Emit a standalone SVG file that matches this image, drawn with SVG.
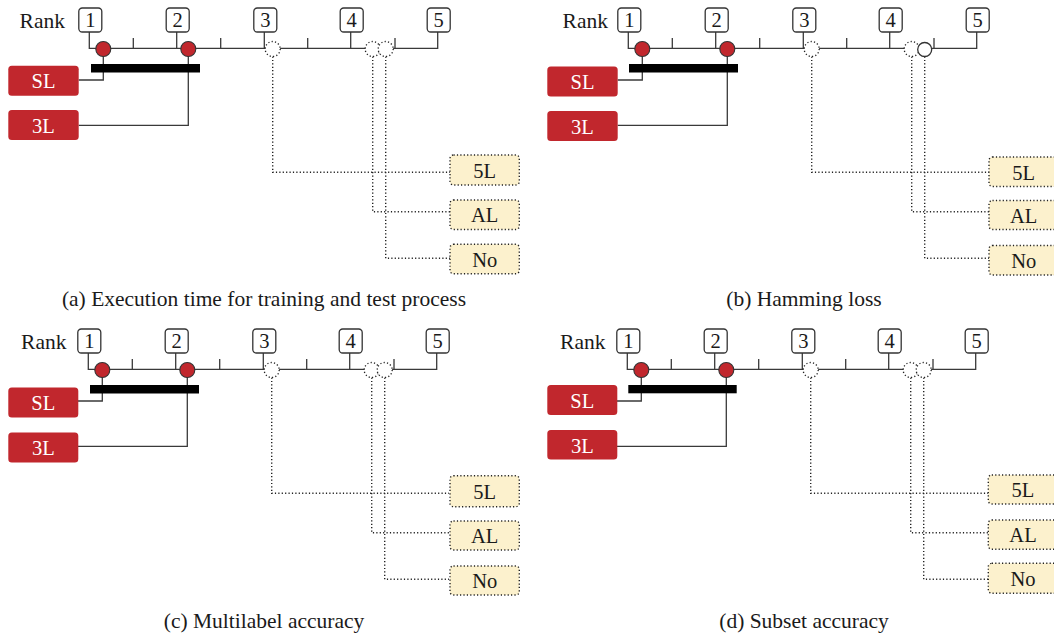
<svg xmlns="http://www.w3.org/2000/svg" width="1054" height="637" viewBox="0 0 1054 637">
  <style>
    text { font-family: "Liberation Serif", "Times New Roman", serif; fill: #1a1a1a; }
    .rank { font-size: 21.5px; }
    .num { font-size: 20.5px; text-anchor: middle; }
    .lab { font-size: 20.5px; text-anchor: middle; }
    .lab-w { fill: #ffffff; }
    .cap { font-size: 21.5px; text-anchor: middle; }
    .rbox { fill: #ffffff; stroke: #333333; stroke-width: 1.3; }
    .solid { fill: none; stroke: #3a3a3a; stroke-width: 1.3; }
    .dot { fill: none; stroke: #222222; stroke-width: 1.4; stroke-dasharray: 1.2 2.2; }
    .red-c { fill: #c1272d; stroke: #333333; stroke-width: 1.1; }
    .open-c { fill: #ffffff; stroke: #222222; stroke-width: 1.3; stroke-dasharray: 1.2 2.2; }
    .open-s { fill: #ffffff; stroke: #333333; stroke-width: 1.3; }
    .red-box { fill: #c1272d; }
    .yel-box { fill: #fcf1cd; stroke: #222222; stroke-width: 1.4; stroke-dasharray: 1.2 2.2; }
    .cd { fill: #000000; }
  </style>

  <!-- Panel (a) -->
  <g id="panel-a">
    <g id="a-axis">
      <text class="rank" x="65" y="27.5" text-anchor="end">Rank</text>
      <path class="solid" d="M89.3 32V48.3H437.7V32M176.7 32V48.3M264.3 32V48.3M350.7 32V48.3M133.3 38V48.3M220.7 38V48.3M307.7 38V48.3M395 38V48.3"/>
    </g>
    <g id="a-r1"><rect class="rbox" x="78.8" y="8" width="23" height="24" rx="3.5"/><text class="num" x="90.3" y="27">1</text></g>
    <g id="a-r2"><rect class="rbox" x="166.2" y="8" width="23" height="24" rx="3.5"/><text class="num" x="177.7" y="27">2</text></g>
    <g id="a-r3"><rect class="rbox" x="253.8" y="8" width="23" height="24" rx="3.5"/><text class="num" x="265.3" y="27">3</text></g>
    <g id="a-r4"><rect class="rbox" x="340.2" y="8" width="23" height="24" rx="3.5"/><text class="num" x="351.7" y="27">4</text></g>
    <g id="a-r5"><rect class="rbox" x="427.2" y="8" width="23" height="24" rx="3.5"/><text class="num" x="438.7" y="27">5</text></g>
    <g id="a-connectors">
      <path class="solid" d="M103.3 56V80H78.7"/>
      <path class="solid" d="M188.3 56V125.3H78.7"/>
      <path class="dot" d="M272.7 56.5V172.3H450"/>
      <path class="dot" d="M372.7 56.5V211.7H450"/>
      <path class="dot" d="M385.7 56.5V258.3H450"/>
    </g>
    <g id="a-marks">
      <circle class="red-c" cx="103.3" cy="49" r="7.5"/>
      <circle class="red-c" cx="188.3" cy="49" r="7.5"/>
      <circle class="open-c" cx="272.7" cy="49" r="7.5"/>
      <circle class="open-c" cx="372.7" cy="49" r="7.5"/>
      <circle class="open-c" cx="385.7" cy="49" r="7.5"/>
      <rect class="cd" x="91" y="64" width="109" height="8.5"/>
    </g>
    <g id="a-sl"><rect class="red-box" x="8.3" y="65.7" width="70.4" height="30" rx="3.5"/><text class="lab lab-w" x="43.5" y="88.3">SL</text></g>
    <g id="a-3l"><rect class="red-box" x="8.3" y="110" width="70.4" height="30" rx="3.5"/><text class="lab lab-w" x="43.5" y="132.8">3L</text></g>
    <g id="a-5l"><rect class="yel-box" x="450" y="155" width="69.3" height="30" rx="3.5"/><text class="lab" x="484.7" y="177.8">5L</text></g>
    <g id="a-al"><rect class="yel-box" x="450" y="200" width="69.3" height="29.5" rx="3.5"/><text class="lab" x="484.7" y="222.3">AL</text></g>
    <g id="a-no"><rect class="yel-box" x="450" y="244.3" width="69.3" height="29.5" rx="3.5"/><text class="lab" x="484.7" y="266.8">No</text></g>
  </g>

  <!-- Panel (b) -->
  <g id="panel-b" transform="translate(539 0)">
    <g id="b-axis">
      <text class="rank" x="69" y="27.5" text-anchor="end">Rank</text>
      <path class="solid" d="M89.3 32V48.3H437.7V32M176.7 32V48.3M264.3 32V48.3M350.7 32V48.3M133.3 38V48.3M220.7 38V48.3M307.7 38V48.3M395 38V48.3"/>
    </g>
    <g id="b-r1"><rect class="rbox" x="78.8" y="8" width="23" height="24" rx="3.5"/><text class="num" x="90.3" y="27">1</text></g>
    <g id="b-r2"><rect class="rbox" x="166.2" y="8" width="23" height="24" rx="3.5"/><text class="num" x="177.7" y="27">2</text></g>
    <g id="b-r3"><rect class="rbox" x="253.8" y="8" width="23" height="24" rx="3.5"/><text class="num" x="265.3" y="27">3</text></g>
    <g id="b-r4"><rect class="rbox" x="340.2" y="8" width="23" height="24" rx="3.5"/><text class="num" x="351.7" y="27">4</text></g>
    <g id="b-r5"><rect class="rbox" x="427.2" y="8" width="23" height="24" rx="3.5"/><text class="num" x="438.7" y="27">5</text></g>
    <g id="b-connectors">
      <path class="solid" d="M103.3 56V80H78.7"/>
      <path class="solid" d="M188.3 56V125.3H78.7"/>
      <path class="dot" d="M272.7 56.5V172.3H450"/>
      <path class="dot" d="M372.7 56.5V211.7H450"/>
      <path class="dot" d="M385.7 56.5V258.3H450"/>
    </g>
    <g id="b-marks">
      <circle class="red-c" cx="103.3" cy="49" r="7.5"/>
      <circle class="red-c" cx="188.3" cy="49" r="7.5"/>
      <circle class="open-c" cx="272.7" cy="49" r="7.5"/>
      <circle class="open-c" cx="372.7" cy="49" r="7.5"/>
      <circle class="open-s" cx="385.7" cy="49.5" r="7"/>
      <rect class="cd" x="90" y="64" width="109" height="8.5"/>
    </g>
    <g id="b-sl"><rect class="red-box" x="8.3" y="66.5" width="70.4" height="30" rx="3.5"/><text class="lab lab-w" x="43.5" y="89.1">SL</text></g>
    <g id="b-3l"><rect class="red-box" x="8.3" y="111" width="70.4" height="30" rx="3.5"/><text class="lab lab-w" x="43.5" y="133.8">3L</text></g>
    <g id="b-5l"><rect class="yel-box" x="450" y="157" width="69.3" height="29.5" rx="3.5"/><text class="lab" x="484.7" y="179.6">5L</text></g>
    <g id="b-al"><rect class="yel-box" x="450" y="200.5" width="69.3" height="29" rx="3.5"/><text class="lab" x="484.7" y="222.8">AL</text></g>
    <g id="b-no"><rect class="yel-box" x="450" y="245.5" width="69.3" height="29.5" rx="3.5"/><text class="lab" x="484.7" y="268.1">No</text></g>
  </g>

  <!-- Panel (c) -->
  <g id="panel-c" transform="translate(-1 321)">
    <g id="c-axis">
      <text class="rank" x="67.5" y="27.5" text-anchor="end">Rank</text>
      <path class="solid" d="M89.3 32V48.3H437.7V32M176.7 32V48.3M264.3 32V48.3M350.7 32V48.3M133.3 38V48.3M220.7 38V48.3M307.7 38V48.3M395 38V48.3"/>
    </g>
    <g id="c-r1"><rect class="rbox" x="78.8" y="8" width="23" height="24" rx="3.5"/><text class="num" x="90.3" y="27">1</text></g>
    <g id="c-r2"><rect class="rbox" x="166.2" y="8" width="23" height="24" rx="3.5"/><text class="num" x="177.7" y="27">2</text></g>
    <g id="c-r3"><rect class="rbox" x="253.8" y="8" width="23" height="24" rx="3.5"/><text class="num" x="265.3" y="27">3</text></g>
    <g id="c-r4"><rect class="rbox" x="340.2" y="8" width="23" height="24" rx="3.5"/><text class="num" x="351.7" y="27">4</text></g>
    <g id="c-r5"><rect class="rbox" x="427.2" y="8" width="23" height="24" rx="3.5"/><text class="num" x="438.7" y="27">5</text></g>
    <g id="c-connectors">
      <path class="solid" d="M103.3 56V80H78.7"/>
      <path class="solid" d="M188.3 56V125.3H78.7"/>
      <path class="dot" d="M272.7 56.5V172.3H450"/>
      <path class="dot" d="M372.7 56.5V211.7H450"/>
      <path class="dot" d="M385.7 56.5V258.3H450"/>
    </g>
    <g id="c-marks">
      <circle class="red-c" cx="103.3" cy="49" r="7.5"/>
      <circle class="red-c" cx="188.3" cy="49" r="7.5"/>
      <circle class="open-c" cx="272.7" cy="49" r="7.5"/>
      <circle class="open-c" cx="372.7" cy="49" r="7.5"/>
      <circle class="open-c" cx="385.7" cy="49" r="7.5"/>
      <rect class="cd" x="91" y="64" width="109" height="8.5"/>
    </g>
    <g id="c-sl"><rect class="red-box" x="9.3" y="66.5" width="70" height="30" rx="3.5"/><text class="lab lab-w" x="44.3" y="89.1">SL</text></g>
    <g id="c-3l"><rect class="red-box" x="9.3" y="111.5" width="70" height="30" rx="3.5"/><text class="lab lab-w" x="44.3" y="134.3">3L</text></g>
    <g id="c-5l"><rect class="yel-box" x="451" y="154.7" width="69.3" height="31" rx="3.5"/><text class="lab" x="485.7" y="177.8">5L</text></g>
    <g id="c-al"><rect class="yel-box" x="451" y="200" width="69.3" height="29" rx="3.5"/><text class="lab" x="485.7" y="222.3">AL</text></g>
    <g id="c-no"><rect class="yel-box" x="451" y="245" width="69.3" height="29" rx="3.5"/><text class="lab" x="485.7" y="267.3">No</text></g>
  </g>

  <!-- Panel (d) -->
  <g id="panel-d" transform="translate(538 321)">
    <g id="d-axis">
      <text class="rank" x="67.5" y="27.5" text-anchor="end">Rank</text>
      <path class="solid" d="M89.3 32V48.3H437.7V32M176.7 32V48.3M264.3 32V48.3M350.7 32V48.3M133.3 38V48.3M220.7 38V48.3M307.7 38V48.3M395 38V48.3"/>
    </g>
    <g id="d-r1"><rect class="rbox" x="78.8" y="8" width="23" height="24" rx="3.5"/><text class="num" x="90.3" y="27">1</text></g>
    <g id="d-r2"><rect class="rbox" x="166.2" y="8" width="23" height="24" rx="3.5"/><text class="num" x="177.7" y="27">2</text></g>
    <g id="d-r3"><rect class="rbox" x="253.8" y="8" width="23" height="24" rx="3.5"/><text class="num" x="265.3" y="27">3</text></g>
    <g id="d-r4"><rect class="rbox" x="340.2" y="8" width="23" height="24" rx="3.5"/><text class="num" x="351.7" y="27">4</text></g>
    <g id="d-r5"><rect class="rbox" x="427.2" y="8" width="23" height="24" rx="3.5"/><text class="num" x="438.7" y="27">5</text></g>
    <g id="d-connectors">
      <path class="solid" d="M103.3 56V80H78.7"/>
      <path class="solid" d="M188.3 56V125.3H78.7"/>
      <path class="dot" d="M272.7 56.5V172.3H450"/>
      <path class="dot" d="M372.7 56.5V211.7H450"/>
      <path class="dot" d="M385.7 56.5V258.3H450"/>
    </g>
    <g id="d-marks">
      <circle class="red-c" cx="103.3" cy="49" r="7.5"/>
      <circle class="red-c" cx="188.3" cy="49" r="7.5"/>
      <circle class="open-c" cx="272.7" cy="49" r="7.5"/>
      <circle class="open-c" cx="372.7" cy="49" r="7.5"/>
      <circle class="open-c" cx="385.7" cy="49" r="7.5"/>
      <rect class="cd" x="90.3" y="64" width="108.4" height="8.3"/>
    </g>
    <g id="d-sl"><rect class="red-box" x="9.3" y="64" width="70" height="30" rx="3.5"/><text class="lab lab-w" x="44.3" y="86.6">SL</text></g>
    <g id="d-3l"><rect class="red-box" x="9.3" y="109" width="70" height="29.5" rx="3.5"/><text class="lab lab-w" x="44.3" y="131.6">3L</text></g>
    <g id="d-5l"><rect class="yel-box" x="450.3" y="154" width="69.3" height="29" rx="3.5"/><text class="lab" x="485" y="176.3">5L</text></g>
    <g id="d-al"><rect class="yel-box" x="450.3" y="199" width="69.3" height="29.3" rx="3.5"/><text class="lab" x="485" y="221.3">AL</text></g>
    <g id="d-no"><rect class="yel-box" x="450.3" y="242.3" width="69.3" height="30" rx="3.5"/><text class="lab" x="485" y="265.3">No</text></g>
  </g>

  <!-- Captions -->
  <g id="captions">
    <text class="cap" x="264" y="306">(a) Execution time for training and test process</text>
    <text class="cap" x="804" y="306">(b) Hamming loss</text>
    <text class="cap" x="264" y="628">(c) Multilabel accuracy</text>
    <text class="cap" x="804" y="628">(d) Subset accuracy</text>
  </g>
</svg>
